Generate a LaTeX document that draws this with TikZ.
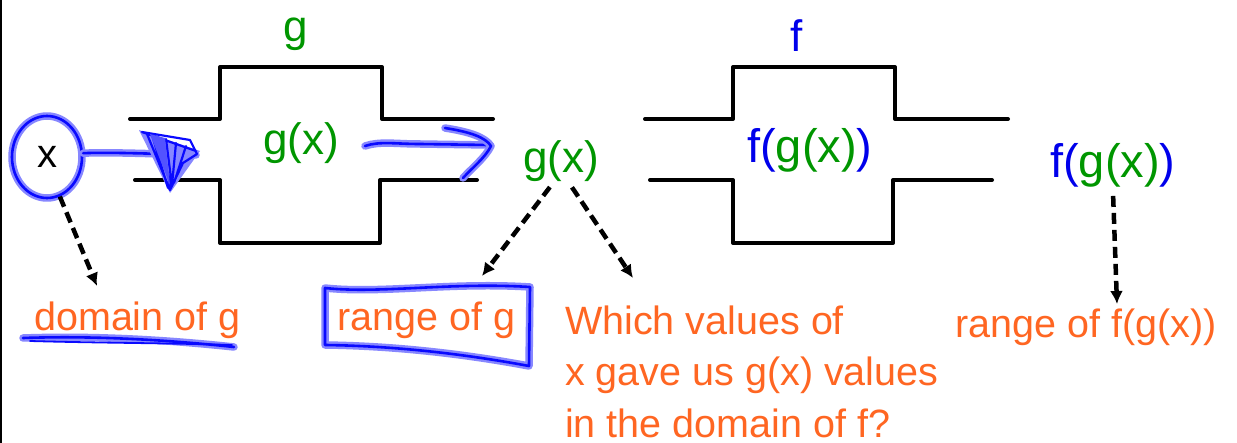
\documentclass[tikz,border=0pt]{standalone}
\usepackage{fontspec}
\setmainfont{Liberation Sans}
\usetikzlibrary{arrows.meta,shapes.geometric}
\definecolor{ggreen}{RGB}{0,150,0}
\definecolor{fblue}{RGB}{0,0,235}
\definecolor{orng}{RGB}{255,102,34}
\definecolor{pen}{RGB}{10,10,255}
\definecolor{halo}{RGB}{135,135,255}
\begin{document}
\begin{tikzpicture}[x=1pt,y=-1pt,
 pipe/.style={line width=4pt,line cap=round,line join=round},
 halostroke/.style={draw=halo,line width=7.5pt,line cap=round,line join=round},
 ink/.style={draw=pen,line width=2.6pt,line cap=round,line join=round,preaction={halostroke}},
 dasharrow/.style={line width=4.5pt,dash pattern=on 11pt off 6pt,-{Latex[length=13pt,width=13pt]}},
 lbl/.style={inner sep=0pt,anchor=base west,font=\fontsize{44}{50}\selectfont},
 big/.style={inner sep=0pt,anchor=base west,font=\fontsize{47}{52}\selectfont},
 note/.style={inner sep=0pt,anchor=base west,text=orng,font=\fontsize{39.5}{48}\selectfont},
]
\fill[white] (0,0) rectangle (1237,443);
\useasboundingbox (0,0) rectangle (1237,443);
\draw[line width=2.5pt] (1,0) -- (1,443);

% g machine
\draw[pipe] (130,119) -- (220,119) -- (220,67) -- (382,67) -- (382,119) -- (493,119);
\draw[pipe] (135,180) -- (220,180) -- (220,243) -- (380,243) -- (380,180) -- (477,180);
% f machine
\draw[pipe] (645,119) -- (733,119) -- (733,67) -- (895,67) -- (895,119) -- (1008,119);
\draw[pipe] (650,180) -- (733,180) -- (733,243) -- (893,243) -- (893,180) -- (992,180);

% labels
\node[lbl,text=ggreen] (glab) at (283,42) {g};
\node[lbl,text=fblue] (flab) at (790,52) {f};
\node[lbl,text=ggreen] (gin) at (263,155) {g(x)};
\node[big] (fin) at (747,163) {\textcolor{fblue}{f(}\textcolor{ggreen}{g(x)}\textcolor{fblue}{)}};
\node[lbl,text=ggreen] (gmid) at (523,173) {g(x)};
\node[big] (fout) at (1050,178) {\textcolor{fblue}{f(}\textcolor{ggreen}{g(x)}\textcolor{fblue}{)}};

% notes
\node[note] (dom) at (34,331) {domain of g};
\node[note] (rng) at (337,331) {range of g};
\node[note] (which1) at (565,335) {Which values of};
\node[note] (which2) at (565,386) {x gave us g(x) values};
\node[note] (which3) at (565,437) {in the domain of f?};
\node[note] (rf) at (955,338) {range of f(g(x))};

% circled x
\node[ellipse,draw=pen,line width=2.6pt,preaction={halostroke},minimum width=70pt,minimum height=82pt,inner sep=0pt,font=\fontsize{40}{48}\selectfont] (c) at (47,157) {x};

% blue hand-drawn input arrow
\coordinate (tri) at (196,155);
\draw[ink] (c.6) .. controls (110,152) and (160,154) .. (tri);
\fill[halo] (139,130) -- (200,151) -- (170,193) -- cycle;
\draw[draw=pen,line width=2.2pt,line cap=round,line join=round]
  (142,132) -- (190,140) -- (197,154) -- (183,163) -- (170,190) -- (147,134)
  (152,135) -- (168,188) (158,137) -- (171,187) (166,139) -- (172,186)
  (176,143) -- (172,185) (186,146) -- (174,183) (142,132) -- (196,151);
\fill[pen!70] (150,134) -- (165,138) -- (170,185) -- cycle;

% blue arrow through g
\draw[ink] (365,146) .. controls (380,141) and (395,144) .. (420,144) -- (488,145);
\draw[ink] (445,128) .. controls (470,132) and (485,137) .. (491,146) .. controls (485,158) and (472,168) .. (463,178);

% underline of domain
\draw[ink] (23,338) .. controls (80,336) and (150,338) .. (234,347);
\draw[draw=pen,line width=1.8pt,line cap=round] (30,341) .. controls (100,343) and (170,343) .. (232,345);

% box around range of g
\draw[ink] (325,288) .. controls (380,294) and (450,282) .. (530,287) -- (529,366) .. controls (470,355) and (400,346) .. (325,345) -- cycle;

% dashed arrows
\coordinate (domtip) at (97,286);
\coordinate (rngtip) at (482,276);
\coordinate (whtip) at (633,278);
\coordinate (rftip) at (1117,304);
\draw[dasharrow] (c.-72) -- (domtip);
\draw[dasharrow,shorten <=6pt] (gmid.-110) -- (rngtip);
\draw[dasharrow,shorten <=6pt] (gmid.-70) -- (whtip);
\draw[dasharrow,shorten <=8pt] (fout.south) -- (rftip);
\end{tikzpicture}
\end{document}
